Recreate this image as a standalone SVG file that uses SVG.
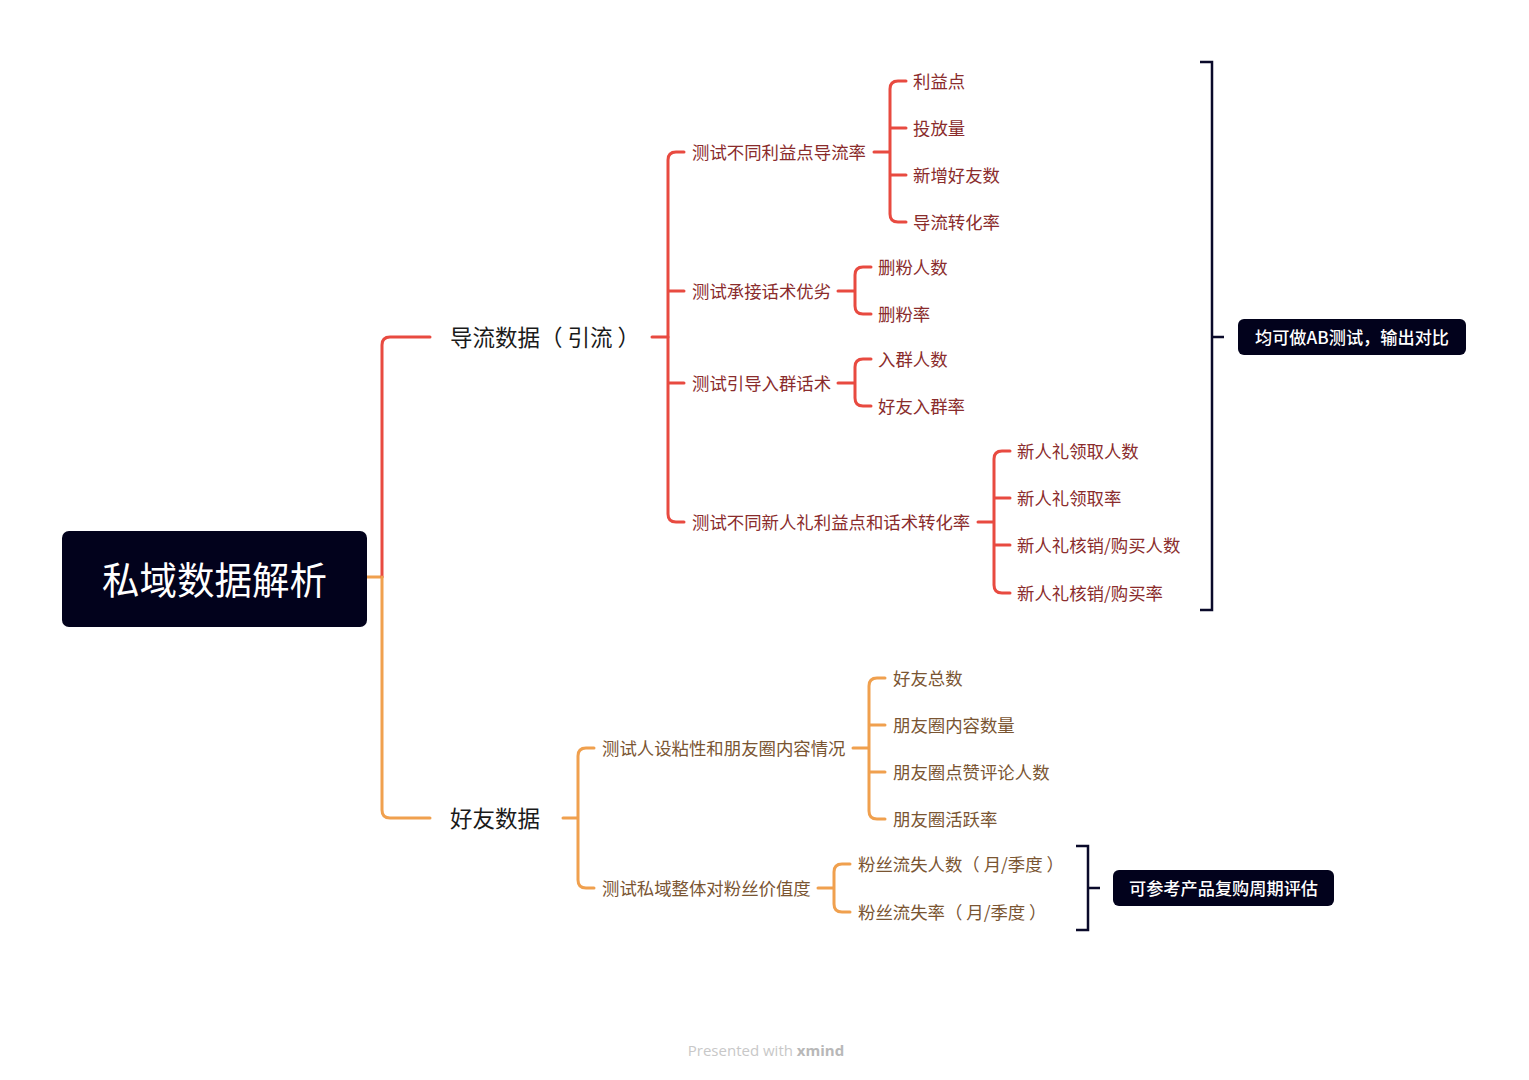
<svg xmlns="http://www.w3.org/2000/svg" width="1529" height="1080" viewBox="0 0 1529 1080">
<style>
text{font-family:"Noto Sans CJK SC","Noto Sans",sans-serif;dominant-baseline:central}
.root{fill:#02021c}
.rt{fill:#fff;font-size:37.5px;text-anchor:middle}
.l1{fill:#1a1a1a;font-size:22.5px}
.lr{fill:#8a2c2c;font-size:17.4px}
.lo{fill:#7a5532;font-size:17.4px}
.sum{fill:#02021c}
.st{fill:#fff;font-size:17.2px;font-weight:500;text-anchor:middle}
.cr{fill:none;stroke:#e84a40;stroke-width:3;stroke-linecap:round}
.co{fill:none;stroke:#f0a04e;stroke-width:3;stroke-linecap:round}
.cb{fill:none;stroke:#0a0a2a;stroke-width:2.5}
</style>
<rect width="1529" height="1080" fill="#fff"/>
<g id="connectors">
<path class="co" d="M367 577H382"/>
<path class="cr" d="M382 577V345Q382 337 390 337H430"/>
<path class="co" d="M382 577V810Q382 818 390 818H430"/>
<path class="cr" d="M652 337H668"/>
<path class="cr" d="M684 152H676Q668 152 668 160V514Q668 522 676 522H684M668 291H684M668 383H684"/>
<path class="cr" d="M874 152H890M906 81H898Q890 81 890 89V214Q890 222 898 222H906M890 128H906M890 175H906"/>
<path class="cr" d="M838 291H855M871 267H863Q855 267 855 275V306Q855 314 863 314H871"/>
<path class="cr" d="M838 383H855M871 359H863Q855 359 855 367V398Q855 406 863 406H871"/>
<path class="cr" d="M978 522H994M1010 451H1002Q994 451 994 459V585Q994 593 1002 593H1010M994 498H1010M994 545H1010"/>
<path class="co" d="M563 818H578M594 748H586Q578 748 578 756V880Q578 888 586 888H594"/>
<path class="co" d="M853 748H869M885 678H877Q869 678 869 686V811Q869 819 877 819H885M869 725H885M869 772H885"/>
<path class="co" d="M818 888H834M850 864H842Q834 864 834 872V904Q834 912 842 912H850"/>
<path class="cb" d="M1200 62H1212V610H1200M1212 337H1224"/>
<path class="cb" d="M1076 846H1088V930H1076M1088 888H1100"/>
</g>
<g id="root"><rect class="root" x="62" y="531" width="305" height="96" rx="7"/><text class="rt" x="214.5" y="577">私域数据解析</text></g>
<g id="n1"><text class="l1" x="450" y="336" xml:space="preserve">导流数据（ 引流 ）</text></g>
<g id="n2"><text class="l1" x="450" y="817">好友数据</text></g>
<g id="n11"><text class="lr" x="692" y="151">测试不同利益点导流率</text></g>
<g id="n12"><text class="lr" x="692" y="290">测试承接话术优劣</text></g>
<g id="n13"><text class="lr" x="692" y="382">测试引导入群话术</text></g>
<g id="n14"><text class="lr" x="692" y="521">测试不同新人礼利益点和话术转化率</text></g>
<g id="n111"><text class="lr" x="913" y="80">利益点</text></g>
<g id="n112"><text class="lr" x="913" y="127">投放量</text></g>
<g id="n113"><text class="lr" x="913" y="174">新增好友数</text></g>
<g id="n114"><text class="lr" x="913" y="221">导流转化率</text></g>
<g id="n121"><text class="lr" x="878" y="266">删粉人数</text></g>
<g id="n122"><text class="lr" x="878" y="313">删粉率</text></g>
<g id="n131"><text class="lr" x="878" y="358">入群人数</text></g>
<g id="n132"><text class="lr" x="878" y="405">好友入群率</text></g>
<g id="n141"><text class="lr" x="1017" y="450">新人礼领取人数</text></g>
<g id="n142"><text class="lr" x="1017" y="497">新人礼领取率</text></g>
<g id="n143"><text class="lr" x="1017" y="544">新人礼核销/购买人数</text></g>
<g id="n144"><text class="lr" x="1017" y="592">新人礼核销/购买率</text></g>
<g id="n21"><text class="lo" x="602" y="747">测试人设粘性和朋友圈内容情况</text></g>
<g id="n22"><text class="lo" x="602" y="887">测试私域整体对粉丝价值度</text></g>
<g id="n211"><text class="lo" x="893" y="677">好友总数</text></g>
<g id="n212"><text class="lo" x="893" y="724">朋友圈内容数量</text></g>
<g id="n213"><text class="lo" x="893" y="771">朋友圈点赞评论人数</text></g>
<g id="n214"><text class="lo" x="893" y="818">朋友圈活跃率</text></g>
<g id="n221"><text class="lo" x="858" y="863" xml:space="preserve">粉丝流失人数（ 月/季度 ）</text></g>
<g id="n222"><text class="lo" x="858" y="911" xml:space="preserve">粉丝流失率（ 月/季度 ）</text></g>
<g id="s1"><rect class="sum" x="1238" y="319" width="228" height="36" rx="6"/><text class="st" x="1352" y="336">均可做AB测试，输出对比</text></g>
<g id="s2"><rect class="sum" x="1113" y="870" width="221" height="36" rx="6"/><text class="st" x="1223.5" y="887">可参考产品复购周期评估</text></g>
<text x="766" y="1050" text-anchor="middle" style="font-family:'Open Sans','Noto Sans',sans-serif;font-size:15px;fill:#c8c8c8">Presented with <tspan font-weight="bold" fill="#b8b8b8">xmind</tspan></text>
</svg>
